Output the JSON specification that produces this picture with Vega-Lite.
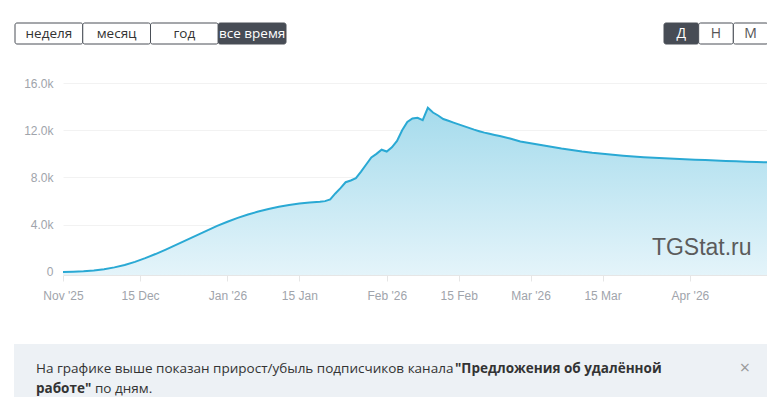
{
  "$schema": "https://vega.github.io/schema/vega-lite/v6.json",
  "usermeta": {"embedOptions": {"actions": false}},
  "background": "white",
  "padding": {"left": 14, "top": 22, "right": 0, "bottom": 0},
  "config": {"view": {"stroke": null}},
  "datasets": {
    "periods": [
      {"label": "неделя", "selected": false},
      {"label": "месяц", "selected": false},
      {"label": "год", "selected": false},
      {"label": "все время", "selected": true}
    ],
    "granularity": [
      {"label": "Д", "selected": true},
      {"label": "Н", "selected": false},
      {"label": "М", "selected": false}
    ],
    "note": [
      {"line": 1, "part": "plain", "text": "На графике выше показан прирост/убыль подписчиков канала"},
      {"line": 1, "part": "channel", "text": "\"Предложения об удалённой"},
      {"line": 2, "part": "channel", "text": "работе\""},
      {"line": 2, "part": "plain", "text": "по дням."},
      {"line": 1, "part": "close", "text": "×"}
    ],
    "watermark": [{"label": "TGStat.ru"}],
    "subs": [
      {"date": "2025-11-30", "subscribers": 0},
      {"date": "2025-12-02", "subscribers": 20},
      {"date": "2025-12-04", "subscribers": 55},
      {"date": "2025-12-06", "subscribers": 120},
      {"date": "2025-12-08", "subscribers": 230},
      {"date": "2025-12-10", "subscribers": 390},
      {"date": "2025-12-12", "subscribers": 600},
      {"date": "2025-12-14", "subscribers": 860},
      {"date": "2025-12-16", "subscribers": 1170},
      {"date": "2025-12-18", "subscribers": 1520},
      {"date": "2025-12-20", "subscribers": 1900},
      {"date": "2025-12-22", "subscribers": 2300},
      {"date": "2025-12-24", "subscribers": 2700},
      {"date": "2025-12-26", "subscribers": 3100},
      {"date": "2025-12-28", "subscribers": 3500},
      {"date": "2025-12-30", "subscribers": 3900},
      {"date": "2026-01-01", "subscribers": 4250},
      {"date": "2026-01-03", "subscribers": 4580},
      {"date": "2026-01-05", "subscribers": 4870},
      {"date": "2026-01-07", "subscribers": 5120},
      {"date": "2026-01-09", "subscribers": 5340},
      {"date": "2026-01-11", "subscribers": 5530},
      {"date": "2026-01-13", "subscribers": 5680},
      {"date": "2026-01-15", "subscribers": 5800},
      {"date": "2026-01-17", "subscribers": 5890},
      {"date": "2026-01-19", "subscribers": 5950},
      {"date": "2026-01-20", "subscribers": 6000},
      {"date": "2026-01-21", "subscribers": 6150},
      {"date": "2026-01-22", "subscribers": 6650},
      {"date": "2026-01-23", "subscribers": 7100},
      {"date": "2026-01-24", "subscribers": 7600},
      {"date": "2026-01-25", "subscribers": 7750},
      {"date": "2026-01-26", "subscribers": 7950},
      {"date": "2026-01-27", "subscribers": 8500},
      {"date": "2026-01-28", "subscribers": 9100},
      {"date": "2026-01-29", "subscribers": 9700},
      {"date": "2026-01-30", "subscribers": 10000},
      {"date": "2026-01-31", "subscribers": 10350},
      {"date": "2026-02-01", "subscribers": 10200},
      {"date": "2026-02-02", "subscribers": 10550},
      {"date": "2026-02-03", "subscribers": 11100},
      {"date": "2026-02-04", "subscribers": 12000},
      {"date": "2026-02-05", "subscribers": 12700},
      {"date": "2026-02-06", "subscribers": 13000},
      {"date": "2026-02-07", "subscribers": 13050},
      {"date": "2026-02-08", "subscribers": 12850},
      {"date": "2026-02-09", "subscribers": 13900},
      {"date": "2026-02-10", "subscribers": 13500},
      {"date": "2026-02-11", "subscribers": 13250},
      {"date": "2026-02-12", "subscribers": 12950},
      {"date": "2026-02-13", "subscribers": 12800},
      {"date": "2026-02-14", "subscribers": 12650},
      {"date": "2026-02-15", "subscribers": 12500},
      {"date": "2026-02-16", "subscribers": 12350},
      {"date": "2026-02-17", "subscribers": 12200},
      {"date": "2026-02-18", "subscribers": 12050},
      {"date": "2026-02-19", "subscribers": 11920},
      {"date": "2026-02-20", "subscribers": 11800},
      {"date": "2026-02-21", "subscribers": 11700},
      {"date": "2026-02-22", "subscribers": 11600},
      {"date": "2026-02-23", "subscribers": 11510},
      {"date": "2026-02-25", "subscribers": 11300},
      {"date": "2026-02-27", "subscribers": 11050},
      {"date": "2026-03-01", "subscribers": 10900},
      {"date": "2026-03-03", "subscribers": 10750},
      {"date": "2026-03-05", "subscribers": 10600},
      {"date": "2026-03-07", "subscribers": 10450},
      {"date": "2026-03-09", "subscribers": 10330},
      {"date": "2026-03-11", "subscribers": 10200},
      {"date": "2026-03-13", "subscribers": 10100},
      {"date": "2026-03-15", "subscribers": 10020},
      {"date": "2026-03-17", "subscribers": 9930},
      {"date": "2026-03-19", "subscribers": 9850},
      {"date": "2026-03-21", "subscribers": 9780},
      {"date": "2026-03-23", "subscribers": 9720},
      {"date": "2026-03-25", "subscribers": 9670},
      {"date": "2026-03-27", "subscribers": 9630},
      {"date": "2026-03-29", "subscribers": 9590},
      {"date": "2026-03-31", "subscribers": 9550},
      {"date": "2026-04-02", "subscribers": 9510},
      {"date": "2026-04-04", "subscribers": 9480},
      {"date": "2026-04-06", "subscribers": 9440},
      {"date": "2026-04-08", "subscribers": 9400},
      {"date": "2026-04-10", "subscribers": 9370},
      {"date": "2026-04-12", "subscribers": 9340},
      {"date": "2026-04-14", "subscribers": 9310},
      {"date": "2026-04-16", "subscribers": 9290}
    ]
  },
  "spacing": 32,
  "vconcat": [
    {
      "spacing": 376,
      "hconcat": [
        {
          "width": 223,
          "height": 21,
          "data": {"name": "periods"},
          "encoding": {
            "x": {"field": "label", "type": "nominal", "sort": null, "scale": {"type": "band", "range": [-48, 223], "paddingInner": 0, "paddingOuter": 0}, "axis": null}
          },
          "layer": [
            {
              "mark": {"type": "rect", "stroke": "#4a4f57", "strokeWidth": 1, "cornerRadius": 2},
              "encoding": {"fill": {"condition": {"test": "datum.selected", "value": "#474c55"}, "value": "#ffffff"}}
            },
            {
              "mark": {"type": "text", "font": "Open Sans", "fontSize": 13.5},
              "encoding": {
                "text": {"field": "label"},
                "color": {"condition": {"test": "datum.selected", "value": "#ffffff"}, "value": "#333333"}
              }
            }
          ]
        },
        {
          "width": 104,
          "height": 21,
          "data": {"name": "granularity"},
          "encoding": {
            "x": {"field": "label", "type": "nominal", "sort": null, "scale": {"type": "band", "paddingInner": 0, "paddingOuter": 0}, "axis": null}
          },
          "layer": [
            {
              "mark": {"type": "rect", "stroke": "#4a4f57", "strokeWidth": 1, "cornerRadius": 2},
              "encoding": {"fill": {"condition": {"test": "datum.selected", "value": "#474c55"}, "value": "#ffffff"}}
            },
            {
              "mark": {"type": "text", "font": "Open Sans", "fontSize": 14},
              "encoding": {
                "text": {"field": "label"},
                "color": {"condition": {"test": "datum.selected", "value": "#ffffff"}, "value": "#555555"}
              }
            }
          ]
        }
      ]
    },
    {
      "spacing": 43,
      "vconcat": [
        {
          "width": 704,
          "height": 192,
          "layer": [
            {
              "data": {"name": "subs"},
              "mark": {
                "type": "area",
                "color": {
                  "gradient": "linear", "x1": 0, "y1": 0, "x2": 0, "y2": 1,
                  "stops": [{"offset": 0, "color": "#a5dbec"}, {"offset": 1, "color": "#e4f4fa"}]
                }
              },
              "encoding": {
                "x": {
                  "field": "date",
                  "type": "temporal",
                  "scale": {"type": "utc", "domain": [{"year": 2025, "month": 11, "date": 30, "utc": true}, {"year": 2026, "month": 4, "date": 16, "utc": true}]},
                  "axis": {
                    "title": null,
                    "grid": false,
                    "values": [
                      {"year": 2025, "month": 11, "date": 30, "utc": true},
                      {"year": 2025, "month": 12, "date": 15, "utc": true},
                      {"year": 2026, "month": 1, "date": 1, "utc": true},
                      {"year": 2026, "month": 1, "date": 15, "utc": true},
                      {"year": 2026, "month": 2, "date": 1, "utc": true},
                      {"year": 2026, "month": 2, "date": 15, "utc": true},
                      {"year": 2026, "month": 3, "date": 1, "utc": true},
                      {"year": 2026, "month": 3, "date": 15, "utc": true},
                      {"year": 2026, "month": 4, "date": 1, "utc": true}
                    ],
                    "labelExpr": "utcdate(datum.value) == 15 ? utcFormat(datum.value, '%d %b') : utcFormat(datum.value, \"%b '%y\")",
                    "domainColor": "#e6e6e6",
                    "tickColor": "#e6e6e6",
                    "tickSize": 6,
                    "labelPadding": 9,
                    "labelFont": "Liberation Sans",
                    "labelFontSize": 12,
                    "labelColor": "#a0a4ab",
                    "labelFlush": false,
                    "labelOverlap": false
                  }
                },
                "y": {
                  "field": "subscribers",
                  "type": "quantitative",
                  "scale": {"domain": [-254, 16000], "nice": false, "zero": false},
                  "axis": {
                    "title": null,
                    "values": [0, 4000, 8000, 12000, 16000],
                    "labelExpr": "datum.value == 0 ? '0' : format(datum.value / 1000, '.1f') + 'k'",
                    "grid": true,
                    "gridColor": "#f2f2f2",
                    "domain": false,
                    "ticks": false,
                    "labelPadding": 10,
                    "minExtent": 49,
                    "maxExtent": 49,
                    "labelFont": "Liberation Sans",
                    "labelFontSize": 12,
                    "labelColor": "#a0a4ab"
                  }
                },
                "y2": {"datum": -254}
              }
            },
            {
              "data": {"name": "subs"},
              "mark": {"type": "line", "color": "#2aa9d4", "strokeWidth": 2},
              "encoding": {
                "x": {"field": "date", "type": "temporal"},
                "y": {"field": "subscribers", "type": "quantitative"}
              }
            },
            {
              "data": {"name": "watermark"},
              "mark": {"type": "text", "font": "Liberation Sans", "fontSize": 23, "color": "#5b5b5b", "align": "right", "baseline": "alphabetic"},
              "encoding": {
                "x": {"datum": {"year": 2026, "month": 4, "date": 13, "utc": true}, "type": "temporal"},
                "y": {"datum": 1480, "type": "quantitative"},
                "text": {"field": "label"}
              }
            }
          ]
        },
        {
          "width": 704,
          "height": 53,
          "data": {"name": "note"},
          "encoding": {
            "y": {"field": "line", "type": "ordinal", "scale": {"type": "point", "range": [25, 45], "padding": 0}, "axis": null}
          },
          "layer": [
            {
              "transform": [{"filter": "datum.part == 'close'"}],
              "mark": {"type": "rect", "fill": "#edf1f5"},
              "encoding": {
                "x": {"field": "part", "type": "nominal", "scale": {"type": "band", "range": [-49, 704], "paddingInner": 0, "paddingOuter": 0}, "axis": null},
                "y": {"value": 0},
                "y2": {"value": 53}
              }
            },
            {
              "transform": [{"filter": "datum.part == 'plain' && datum.line == 1"}],
              "mark": {"type": "text", "font": "Open Sans", "fontSize": 13.5, "color": "#333333", "align": "left", "dx": -379},
              "encoding": {"text": {"field": "text"}}
            },
            {
              "transform": [{"filter": "datum.part == 'channel' && datum.line == 1"}],
              "mark": {"type": "text", "font": "Open Sans", "fontSize": 13.5, "fontWeight": "bold", "color": "#333333", "align": "left", "dx": 40},
              "encoding": {"text": {"field": "text"}}
            },
            {
              "transform": [{"filter": "datum.part == 'channel' && datum.line == 2"}],
              "mark": {"type": "text", "font": "Open Sans", "fontSize": 13.5, "fontWeight": "bold", "color": "#333333", "align": "left", "dx": -379},
              "encoding": {"text": {"field": "text"}}
            },
            {
              "transform": [{"filter": "datum.part == 'plain' && datum.line == 2"}],
              "mark": {"type": "text", "font": "Open Sans", "fontSize": 13.5, "color": "#333333", "align": "left", "dx": -320},
              "encoding": {"text": {"field": "text"}}
            },
            {
              "transform": [{"filter": "datum.part == 'close'"}],
              "mark": {"type": "text", "font": "Open Sans", "fontSize": 18, "color": "#9a9a9a", "align": "center", "dx": 330},
              "encoding": {"text": {"field": "text"}}
            }
          ]
        }
      ]
    }
  ]
}
